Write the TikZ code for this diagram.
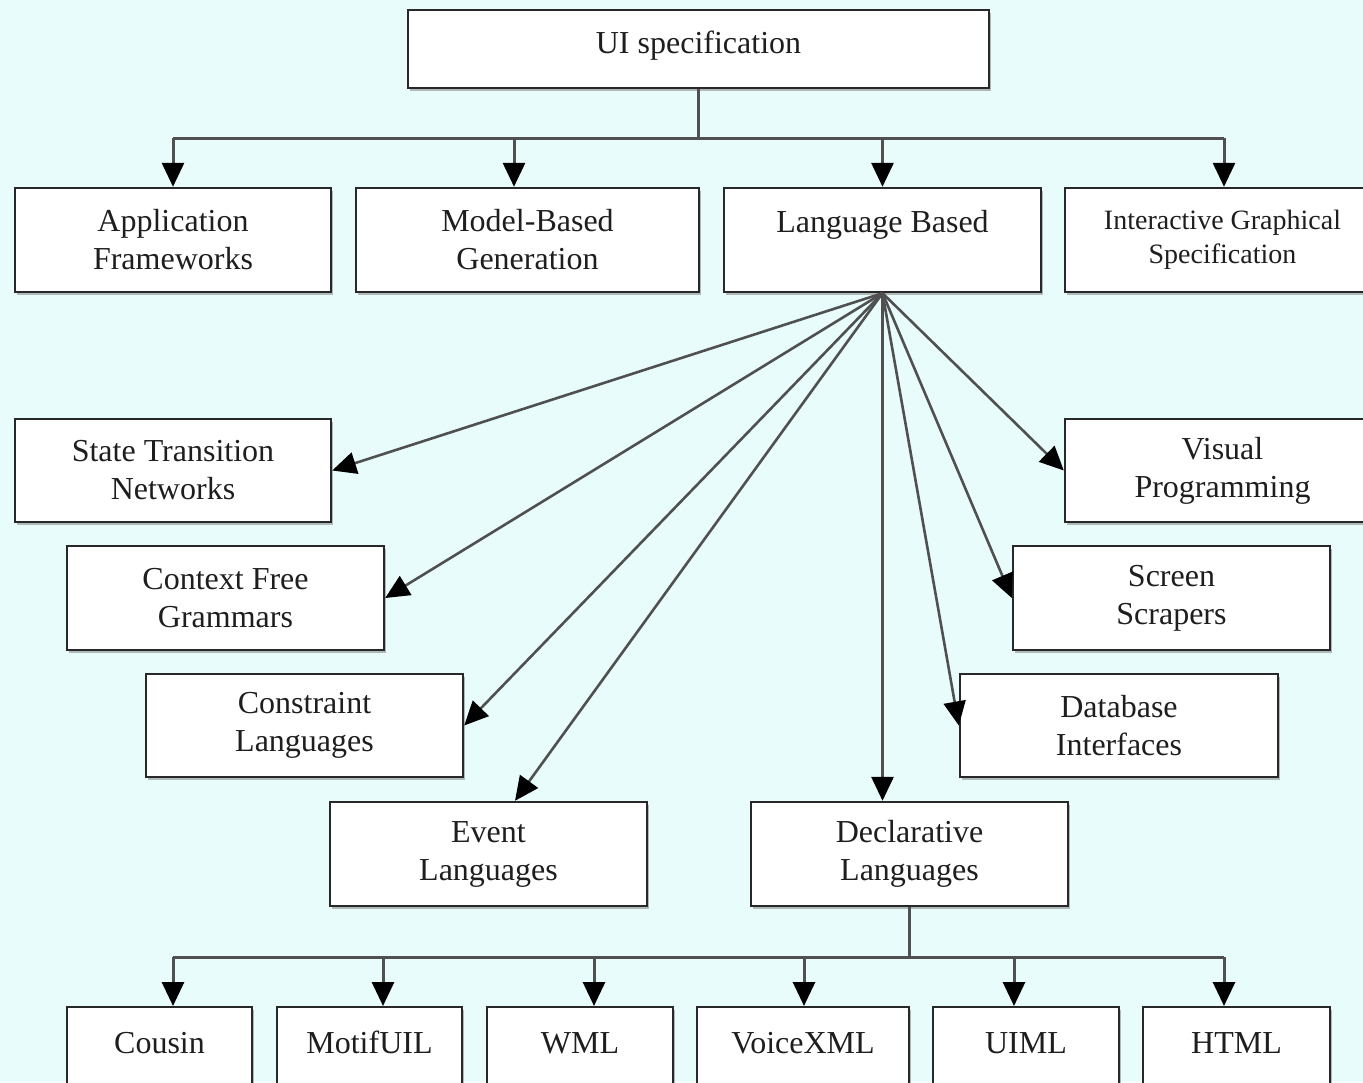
\documentclass[tikz,border=0pt]{standalone}
\usepackage{fontspec}
\setmainfont{Liberation Serif}
\usetikzlibrary{arrows.meta,shadows,calc}
\definecolor{bgcyan}{RGB}{232,252,252}
\definecolor{linegray}{RGB}{80,80,80}
\definecolor{boxedge}{RGB}{40,40,40}
\definecolor{inkgray}{RGB}{30,30,30}
\begin{document}
\begin{tikzpicture}[x=1pt,y=-1pt,
  box/.style={draw=boxedge,line width=2.4pt,fill=white,rectangle,align=center,
    inner sep=2pt,text=inkgray,font=\fontsize{32}{38}\selectfont,
    drop shadow={shadow xshift=2pt,shadow yshift=-3pt,fill=black!45,opacity=0.6}},
  midbox/.style={box,minimum width=317pt,minimum height=104pt},
  leafbox/.style={box,anchor=north,inner ysep=8pt,text height=38pt,text depth=70pt},
  tip/.style={-{Triangle[length=24pt,width=22pt,black]}},
  link/.style={draw=linegray,line width=3pt},
  arr/.style={link,tip},
  fan/.style={draw=linegray,line width=2.6pt,tip}]

% canvas
\useasboundingbox (0,0) rectangle (1363,1082);
\fill[bgcyan] (0,0) rectangle (1363,1082);
\clip (0,0) rectangle (1363,1082);

% root
\node[box,minimum width=581pt,minimum height=78pt,text height=22pt,text depth=14pt]
  (ui) at (698.5,49) {UI specification};

% first level
\node[midbox,minimum width=316pt] (af) at (173,240) {Application\\Frameworks};
\node[midbox,minimum width=343pt] (mb) at (527.5,240) {Model-Based\\Generation};
\node[midbox,text height=22pt,text depth=38pt] (lb) at (882.5,240) {Language Based};
\node[midbox,minimum width=315pt,font=\fontsize{28}{34}\selectfont] (ig) at (1222.5,240)
  {Interactive Graphical\\Specification};

% language based families
\node[midbox,minimum width=316pt,minimum height=103pt] (st) at (173,470.5) {State Transition\\Networks};
\node[midbox] (cf) at (225.5,598) {Context Free\\Grammars};
\node[midbox,minimum height=103pt] (cl) at (304.5,725.5) {Constraint\\Languages};
\node[midbox] (ev) at (488.5,854) {Event\\Languages};
\node[midbox] (dl) at (909.5,854) {Declarative\\Languages};
\node[midbox,minimum width=315pt,minimum height=103pt] (vp) at (1222.5,470.5) {Visual\\Programming};
\node[midbox] (ss) at (1171.5,598) {Screen\\Scrapers};
\node[midbox,minimum width=318pt,minimum height=103pt] (di) at (1119,725.5) {Database\\Interfaces};

% declarative languages
\node[leafbox,minimum width=185pt] (c1) at (159.5,1006) {Cousin};
\node[leafbox,minimum width=185pt] (c2) at (369.5,1006) {MotifUIL};
\node[leafbox,minimum width=186pt] (c3) at (580,1006) {WML};
\node[leafbox,minimum width=212pt] (c4) at (803,1006) {VoiceXML};
\node[leafbox,minimum width=186pt] (c5) at (1026,1006) {UIML};
\node[leafbox,minimum width=187pt] (c6) at (1236.5,1006) {HTML};

% top bus
\coordinate (bt) at (698.5,138);
\coordinate (ba) at (173,138);
\coordinate (bz) at (1224,138);
\draw[link] (ui.south) -- (bt);
\draw[link] (ba) -- (bz);
\draw[arr] (ba) -- (af.north);
\draw[arr] (mb.north |- bt) ++(-13.5,0) -- ([xshift=-13.5pt]mb.north);
\draw[arr] (lb.north |- bt) -- (lb.north);
\draw[arr] (bz) -- ([xshift=1.5pt]ig.north);

% fan out of language based
\draw[fan] (lb.south) -- (st.east);
\draw[fan] (lb.south) -- (cf.east);
\draw[fan] (lb.south) -- (cl.east);
\draw[fan] (lb.south) -- ([xshift=26.5pt]ev.north);
\draw[arr] (lb.south) -- ([xshift=-27pt]dl.north);
\draw[fan] (lb.south) -- (di.west);
\draw[fan] (lb.south) -- (ss.west);
\draw[fan] (lb.south) -- (vp.west);

% bottom bus
\coordinate (dt) at (909.5,957);
\coordinate (da) at (173,957);
\coordinate (dz) at (1224,957);
\draw[link] (dl.south) -- (dt);
\draw[link] (da) -- (dz);
\draw[arr] (da) -- ([xshift=13.5pt]c1.north);
\draw[arr] (c2.north |- dt) ++(13.5,0) -- ([xshift=13.5pt]c2.north);
\draw[arr] (c3.north |- dt) ++(14,0) -- ([xshift=14pt]c3.north);
\draw[arr] (c4.north |- dt) ++(1,0) -- ([xshift=1pt]c4.north);
\draw[arr] (c5.north |- dt) ++(-12,0) -- ([xshift=-12pt]c5.north);
\draw[arr] (dz) -- ([xshift=-12.5pt]c6.north);
\end{tikzpicture}
\end{document}
